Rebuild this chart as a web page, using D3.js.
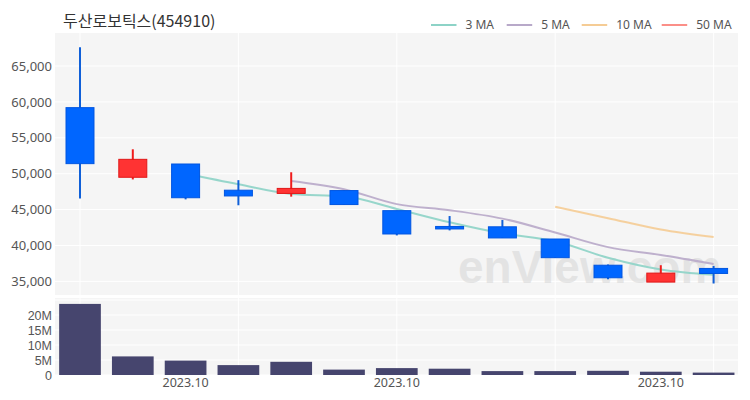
<!DOCTYPE html>
<html><head><meta charset="utf-8">
<script src="https://cdn.jsdelivr.net/npm/d3@7"></script>
<style>html,body{margin:0;padding:0;background:#fff;}svg{display:block;}</style>
</head><body>
<svg id="chart" width="750" height="400"></svg>
<script>
const title = "두산로보틱스(454910)";
const categories = ["d1","d2","d3","d4","d5","d6","d7","d8","d9","d10","d11","d12","d13"];
const xTickLabels = [{i:2,label:"2023.10"},{i:6,label:"2023.10"},{i:11,label:"2023.10"}];
const openV  = [59200,49500,51350,47700,47250,47650,44850,42650,42600,40900,37250,34900,36800];
const highV  = [67600,53400,51350,49100,50200,47650,44850,44100,43550,40900,37350,37250,37150];
const lowV   = [46550,49200,46420,45600,46800,45700,41400,42100,41050,38300,35300,34900,34700];
const closeV = [51400,52000,46650,46900,47950,45700,41600,42400,41050,38300,35500,36150,36100];
const volumeV = [23.7e6,6.2e6,4.8e6,3.3e6,4.4e6,1.8e6,2.3e6,2.1e6,1.3e6,1.3e6,1.4e6,1.1e6,0.8e6];
const ma3  = [null,null,50017,48517,47167,46850,45083,43233,41683,40583,38283,36650,35917];
const ma5  = [null,null,null,null,48980,47840,45760,44910,43740,41810,39770,38680,37420];
const ma10 = [null,null,null,null,null,null,null,null,null,45395,43805,42220,41165];
const ma50 = [null,null,null,null,null,null,null,null,null,null,null,null,null];
const priceTicks = [35000,40000,45000,50000,55000,60000,65000];
const volTicks = [0,5e6,10e6,15e6,20e6];
const volGrid = [0,5e6,10e6,15e6,20e6,25e6];
const legendItems = [{name:"3 MA",color:"#8dd3c7"},{name:"5 MA",color:"#b8a9c9"},{name:"10 MA",color:"#f5cc95"},{name:"50 MA",color:"#fb8f88"}];

const svg = d3.select("#chart");
const plotL = 55, plotR = 738, pTop = 33, pBot = 295, vTop = 298, vBot = 375;
const font = "'Noto Sans', 'Noto Sans CJK KR', sans-serif";

const x = d3.scaleBand().domain(d3.range(categories.length)).range([53.6, 740]).padding(0);
const cx = i => x(i) + x.bandwidth()/2;
const y = d3.scaleLinear().domain([33100, 69600]).range([pBot, pTop]);
const yv = d3.scaleLinear().domain([0, 25.67e6]).range([vBot, vTop]);

// backgrounds
svg.append("rect").attr("x",plotL).attr("y",pTop).attr("width",plotR-plotL).attr("height",pBot-pTop).attr("fill","#f5f5f5");
svg.append("rect").attr("x",plotL).attr("y",vTop).attr("width",plotR-plotL).attr("height",vBot-vTop).attr("fill","#f5f5f5");

// grids
const gridIdx = [0,3,6,9,12];
svg.append("g").selectAll("line").data(priceTicks).join("line")
  .attr("x1",plotL).attr("x2",plotR).attr("y1",d=>y(d)).attr("y2",d=>y(d)).attr("stroke","#fff").attr("stroke-width",1);
svg.append("g").selectAll("line").data(volGrid).join("line")
  .attr("x1",plotL).attr("x2",plotR).attr("y1",d=>yv(d)).attr("y2",d=>yv(d)).attr("stroke","#fff").attr("stroke-width",1);
svg.append("g").selectAll("line").data(gridIdx).join("line")
  .attr("x1",d=>cx(d)).attr("x2",d=>cx(d)).attr("y1",pTop).attr("y2",pBot).attr("stroke","#fff").attr("stroke-width",1);
svg.append("g").selectAll("line").data(gridIdx).join("line")
  .attr("x1",d=>cx(d)).attr("x2",d=>cx(d)).attr("y1",vTop).attr("y2",vBot).attr("stroke","#fff").attr("stroke-width",1);

// watermark
svg.append("text").attr("x",458).attr("y",283).text("enView.com")
  .attr("font-family","'Liberation Sans', Arial, sans-serif").attr("font-weight","bold").attr("font-size",46)
  .attr("fill","#d8d8d8").attr("fill-opacity",0.6);

// y axes
const yAxis = d3.axisLeft(y).tickValues(priceTicks).tickSize(0).tickPadding(3).tickFormat(d3.format(","));
const ga = svg.append("g").attr("transform",`translate(${plotL},0)`).call(yAxis);
ga.select(".domain").remove();
ga.selectAll("text").attr("font-family",font).attr("font-size",13).attr("fill","#555");
const vAxis = d3.axisLeft(yv).tickValues(volTicks).tickSize(0).tickPadding(3).tickFormat(d => d===0 ? "0" : (d/1e6)+"M");
const gv = svg.append("g").attr("transform",`translate(${plotL},0)`).call(vAxis);
gv.select(".domain").remove();
gv.selectAll("text").attr("font-family","'Liberation Sans', Arial, sans-serif").attr("font-size",12.5).attr("fill","#555");

// x axis labels
const xAxis = d3.axisBottom(x).tickValues(xTickLabels.map(d=>d.i)).tickSize(0).tickPadding(3)
  .tickFormat(i => xTickLabels.find(d=>d.i===i).label);
const gx = svg.append("g").attr("transform",`translate(0,${vBot})`).call(xAxis);
gx.select(".domain").remove();
gx.selectAll("text").attr("font-family",font).attr("font-size",12.5).attr("fill","#555");

// volume bars
const vw = x.bandwidth()*0.79;
svg.append("g").selectAll("rect").data(volumeV).join("rect")
  .attr("x",(d,i)=>cx(i)-vw/2).attr("width",vw)
  .attr("y",d=>yv(d)).attr("height",d=>yv(0)-yv(d)).attr("fill","#46456e");

// MA lines
const line = d3.line().defined(d=>d!=null).x((d,i)=>cx(i)).y(d=>y(d)).curve(d3.curveMonotoneX);
[[ma10,legendItems[2].color],[ma50,legendItems[3].color],[ma5,legendItems[1].color],[ma3,legendItems[0].color]].forEach(([arr,col])=>{
  if (arr.some(v=>v!=null))
    svg.append("path").attr("d",line(arr)).attr("fill","none").attr("stroke",col).attr("stroke-width",2).attr("stroke-opacity",0.9);
});

// candles
const bw = x.bandwidth()*0.53;
const cg = svg.append("g").selectAll("g").data(categories).join("g");
const isUp = i => closeV[i] >= openV[i];
cg.append("line")
  .attr("x1",(d,i)=>cx(i)).attr("x2",(d,i)=>cx(i))
  .attr("y1",(d,i)=>y(highV[i])).attr("y2",(d,i)=>y(lowV[i]))
  .attr("stroke",(d,i)=>isUp(i)?"#f01c1c":"#1060d8").attr("stroke-width",2);
cg.append("rect")
  .attr("x",(d,i)=>cx(i)-bw/2).attr("width",bw)
  .attr("y",(d,i)=>y(Math.max(openV[i],closeV[i])))
  .attr("height",(d,i)=>Math.max(2.5, Math.abs(y(openV[i])-y(closeV[i]))))
  .attr("fill",(d,i)=>isUp(i)?"#ff3333":"#0066ff")
  .attr("stroke",(d,i)=>isUp(i)?"#e01818":"#0055e0").attr("stroke-width",1);

// title
svg.append("text").attr("x",63).attr("y",27).text(title)
  .attr("font-family","'Noto Sans CJK KR', sans-serif").attr("font-size",16).attr("fill","#333");

// legend
const legX = [431, 506.7, 581.7, 661.7];
const lg = svg.append("g").selectAll("g").data(legendItems).join("g")
  .attr("transform",(d,i)=>`translate(${legX[i]},25)`);
lg.append("line").attr("x1",0).attr("x2",25.5).attr("y1",0).attr("y2",0).attr("stroke",d=>d.color).attr("stroke-width",2);
lg.append("text").attr("x",34.5).attr("y",4.3).text(d=>d.name)
  .attr("font-family",font).attr("font-size",12).attr("fill","#555");
</script>
</body></html>
